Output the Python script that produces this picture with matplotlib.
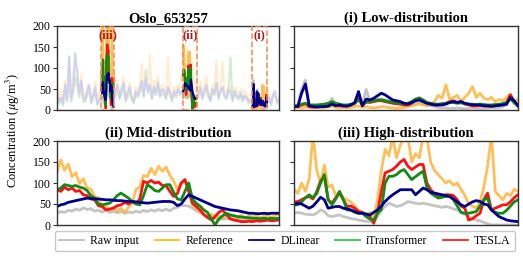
import numpy as np
import matplotlib
matplotlib.use("Agg")
import matplotlib.pyplot as plt
from matplotlib.lines import Line2D
from matplotlib.patches import Rectangle

plt.rcParams['font.family'] = ['Liberation Serif', 'DejaVu Serif']
plt.rcParams['mathtext.fontset'] = 'stix'

# ---- overview (faded background of the full series) ----
bg_ref = [80, 30, 45, 20, 70, 35, 60, 25, 90, 60,
          55, 30, 85, 40, 30, 60, 50, 25, 45, 70,
          20, 40, 60, 80, 120, 150, 200, 180, 100, 60,
          70, 40, 55, 80, 30, 45, 65, 35, 25, 55,
          45, 60, 110, 40, 90, 55, 130, 40, 70, 50,
          80, 45, 60, 55, 35, 125, 50, 30, 55, 45,
          60, 50, 100, 140, 150, 110, 130, 120, 60, 40,
          45, 70, 40, 55, 80, 45, 35, 60, 50, 120,
          40, 55, 115, 45, 40, 60, 50, 30, 55, 45,
          40, 50, 30, 45, 40, 25, 35, 30, 40, 30,
          25, 35, 40, 55, 60, 35, 20, 40, 35, 25,
          30]
bg_itrans = [30, 15, 25, 10, 45, 20, 70, 20, 40, 80,
             60, 30, 55, 20, 20, 35, 45, 15, 30, 40,
             10, 20, 25, 30, 40, 30, 35, 25, 15, 35,
             45, 25, 40, 50, 20, 30, 45, 25, 15, 35,
             30, 40, 55, 30, 95, 40, 50, 25, 45, 35,
             55, 30, 40, 35, 25, 50, 35, 20, 40, 30,
             45, 35, 40, 35, 45, 30, 40, 35, 25, 30,
             30, 45, 25, 40, 50, 30, 20, 45, 35, 55,
             25, 40, 55, 30, 25, 45, 125, 20, 40, 30,
             25, 35, 20, 30, 25, 15, 20, 15, 10, 10,
             10, 10, 15, 10, 15, 25, 10, 30, 35, 15,
             20]
bg_dlinear = [40, 20, 30, 15, 60, 25, 128, 30, 50, 135,
              90, 40, 70, 30, 25, 45, 60, 20, 35, 55,
              15, 25, 30, 40, 50, 35, 45, 30, 20, 45,
              60, 30, 50, 65, 25, 40, 55, 30, 20, 45,
              35, 50, 70, 35, 75, 45, 60, 30, 55, 40,
              65, 35, 50, 45, 30, 55, 40, 25, 45, 35,
              50, 40, 45, 40, 50, 35, 45, 40, 30, 35,
              35, 55, 30, 45, 60, 35, 25, 50, 40, 65,
              30, 45, 55, 35, 30, 50, 40, 25, 45, 35,
              30, 40, 25, 35, 30, 20, 25, 20, 10, 15,
              10, 10, 15, 10, 20, 30, 15, 35, 45, 20,
              25]
windows = {'(iii)': (22, 28), '(ii)': (62.5, 69), '(i)': (97, 104)}

# ---- (i) Low-distribution ----
low_raw = [10, 12, 50, 71, 12, 10, 9, 10, 10, 11,
           28, 12, 14, 10, 10, 12, 14, 30, 12, 49,
           20, 22, 24, 26, 24, 22, 18, 16, 14, 12,
           10, 12, 16, 18, 14, 12, 10, 8, 6, 5,
           5, 4, 4, 5, 4, 3, 4, 5, 4, 4,
           4, 5, 6, 5, 6, 8, 12, 32, 14, 8]
low_ref = [5, 6, 5, 7, 6, 5, 6, 5, 6, 7,
           8, 6, 5, 6, 5, 6, 8, 10, 6, 8,
           6, 5, 6, 8, 7, 6, 5, 4, 5, 6,
           8, 10, 12, 15, 12, 10, 14, 20, 35, 28,
           60, 25, 30, 35, 20, 30, 40, 56, 30, 40,
           28, 25, 30, 20, 25, 22, 30, 38, 20, 25]
low_dlinear = [8, 8, 40, 62, 10, 8, 7, 8, 8, 9,
               14, 10, 12, 10, 9, 12, 18, 44, 10, 26,
               24, 28, 34, 40, 36, 30, 24, 22, 20, 16,
               14, 18, 22, 24, 20, 16, 14, 12, 12, 12,
               14, 18, 20, 18, 20, 16, 14, 12, 12, 12,
               10, 10, 9, 10, 11, 12, 14, 30, 22, 10]
low_itrans = [10, 10, 14, 16, 12, 12, 12, 13, 14, 16,
              20, 16, 14, 12, 12, 14, 16, 24, 14, 18,
              20, 22, 24, 24, 22, 20, 18, 18, 16, 15,
              16, 20, 26, 28, 24, 18, 16, 14, 14, 15,
              16, 18, 18, 16, 17, 15, 14, 14, 13, 14,
              13, 12, 12, 13, 14, 15, 18, 26, 18, 12]
low_tesla = [8, 8, 12, 15, 8, 7, 8, 9, 10, 12,
             16, 12, 10, 9, 10, 12, 16, 30, 10, 20,
             18, 20, 22, 22, 20, 18, 16, 15, 14, 12,
             12, 16, 24, 29, 22, 16, 14, 12, 12, 14,
             16, 20, 22, 18, 20, 14, 12, 10, 10, 11,
             10, 9, 9, 10, 12, 14, 18, 36, 20, 10]

# ---- (ii) Mid-distribution ----
mid_raw = [28, 32, 30, 35, 33, 38, 35, 41, 37, 39,
           33, 35, 31, 35, 30, 33, 29, 32, 28, 31,
           29, 33, 30, 35, 32, 36, 33, 37, 34, 38,
           34, 40, 42, 47, 46, 45, 40, 34, 30, 25,
           20, 16, 15, 14, 14, 15, 14, 13, 14, 13,
           12, 13, 12, 13, 12, 13, 12, 12, 13, 12]
mid_ref = [125, 155, 130, 145, 115, 125, 98, 110, 88, 85,
           68, 65, 42, 45, 35, 42, 32, 40, 30, 42,
           52, 85, 90, 118, 115, 135, 120, 140, 128, 138,
           118, 105, 84, 98, 108, 85, 48, 40, 32, 25,
           18, 26, 18, 22, 16, 24, 18, 22, 17, 24,
           16, 22, 19, 24, 17, 21, 24, 18, 22, 25]
mid_dlinear = [44, 48, 50, 54, 56, 58, 60, 62, 64, 63,
               62, 62, 61, 60, 60, 59, 58, 58, 57, 56,
               56, 55, 54, 53, 52, 53, 54, 55, 56, 56,
               56, 54, 46, 50, 62, 72, 68, 64, 60, 56,
               52, 48, 44, 42, 40, 38, 36, 35, 34, 32,
               30, 28, 28, 27, 27, 28, 27, 28, 28, 28]
mid_itrans = [84, 88, 96, 94, 92, 94, 90, 88, 82, 70,
              64, 50, 48, 50, 52, 60, 70, 76, 70, 64,
              56, 50, 48, 70, 96, 90, 82, 80, 88, 96,
              96, 78, 62, 60, 80, 100, 62, 52, 45, 36,
              30, 15, 0, 14, 22, 28, 24, 22, 20, 19,
              18, 17, 16, 16, 15, 16, 15, 16, 15, 16]
mid_tesla = [84, 80, 90, 84, 88, 80, 82, 72, 70, 62,
             60, 46, 44, 36, 38, 40, 46, 48, 54, 50,
             56, 50, 62, 104, 100, 106, 100, 102, 94, 94,
             80, 68, 75, 100, 108, 80, 52, 44, 36, 25,
             18, 12, 20, 30, 36, 25, 15, 12, 10, 8,
             8, 9, 8, 10, 9, 10, 12, 10, 11, 12]

# ---- (iii) High-distribution ----
high_raw = [28, 30, 28, 26, 25, 24, 28, 36, 32, 22,
            20, 22, 24, 20, 18, 15, 14, 12, 10, 9,
            8, 10, 20, 36, 44, 52, 48, 44, 46, 50,
            56, 54, 52, 50, 52, 50, 48, 46, 44, 42,
            44, 42, 38, 36, 30, 25, 20, 15, 12, 10,
            6, 3, 0, 0, 0, 0, 0, 0, 0, 0]
high_ref = [85, 75, 100, 80, 110, 215, 130, 100, 143, 90,
            95, 70, 80, 64, 60, 55, 45, 35, 30, 25,
            30, 20, 60, 130, 180, 165, 210, 160, 190, 210,
            210, 150, 170, 160, 210, 210, 150, 130, 120, 110,
            100, 105, 95, 100, 85, 70, 50, 45, 40, 55,
            90, 140, 215, 80, 70, 60, 75, 70, 85, 80]
high_dlinear = [48, 52, 50, 45, 40, 45, 55, 66, 60, 40,
                42, 44, 44, 40, 38, 36, 32, 28, 28, 26,
                24, 30, 36, 45, 56, 65, 72, 78, 84, 84,
                84, 84, 72, 80, 88, 84, 78, 76, 74, 72,
                70, 68, 62, 55, 48, 44, 50, 55, 58, 56,
                50, 48, 36, 28, 20, 16, 12, 10, 9, 8]
high_itrans = [48, 48, 55, 65, 72, 65, 75, 100, 120, 60,
               48, 62, 80, 60, 36, 35, 30, 28, 28, 20,
               14, 12, 28, 36, 100, 116, 116, 120, 128, 132,
               120, 108, 115, 122, 128, 90, 76, 70, 64, 66,
               68, 68, 60, 45, 30, 28, 28, 30, 32, 45,
               60, 64, 36, 30, 28, 28, 35, 45, 55, 60]
high_tesla = [55, 56, 60, 65, 68, 62, 80, 105, 116, 60,
              52, 65, 76, 60, 44, 45, 40, 32, 30, 25,
              20, 4, 30, 80, 124, 128, 132, 140, 150, 156,
              140, 132, 138, 144, 144, 100, 84, 75, 68, 70,
              72, 72, 70, 60, 45, 40, 12, 15, 22, 28,
              60, 76, 36, 40, 44, 48, 48, 55, 65, 72]

labels = ['Raw input', 'Reference', 'DLinear', 'iTransformer', 'TESLA']
c_raw, c_ref, c_dl, c_it, c_te = '#c4c4c4', '#ffb02e', '#00008b', '#138a13', '#ff1010'

W, H = 523, 256
fig = plt.figure(figsize=(W / 100, H / 100), dpi=100)


def make_ax(x0, x1, ytop, ybot):
    return fig.add_axes([x0 / W, 1 - ybot / H, (x1 - x0) / W, (ybot - ytop) / H])


def plot_panel(ax, x, raw, ref, dl, it, te, lw=2.0):
    ax.plot(x, raw, color=c_raw, lw=lw)
    ax.plot(x, ref, color=c_ref, lw=lw, alpha=0.8)
    ax.plot(x, te, color=c_te, lw=lw)
    ax.plot(x, it, color=c_it, lw=lw)
    ax.plot(x, dl, color=c_dl, lw=lw)


def style(ax, title, show_labels):
    ax.set_ylim(0, 200)
    ax.set_yticks([0, 50, 100, 150, 200])
    ax.set_xticks([])
    if not show_labels:
        ax.set_yticklabels([])
    ax.tick_params(axis='y', labelsize=8.5, length=3, width=0.8, pad=1.5, colors='#333333',
                   labelcolor='black')
    for s in ax.spines.values():
        s.set_color('#333333')
        s.set_linewidth(1.0)
    ax.set_title(title, fontsize=10.5, fontweight='bold', pad=3)


# overview
ax0 = make_ax(57, 279, 26, 110)
xo = np.arange(len(bg_ref))
ax0.plot(xo, bg_ref, color='#ffeccc', lw=1.4)
ax0.plot(xo, bg_itrans, color='#d4ead0', lw=1.4)
ax0.plot(xo, bg_dlinear, color='#cfcfee', lw=1.4)
panel_sets = {
    '(i)': (low_raw, low_ref, low_dlinear, low_itrans, low_tesla),
    '(ii)': (mid_raw, mid_ref, mid_dlinear, mid_itrans, mid_tesla),
    '(iii)': (high_raw, high_ref, high_dlinear, high_itrans, high_tesla),
}
for name, (a, b) in windows.items():
    raw, ref, dl, it, te = panel_sets[name]
    xs = np.linspace(a, b, len(raw))
    plot_panel(ax0, xs, raw, ref, dl, it, te, lw=1.6)
    ax0.add_patch(Rectangle((a - 0.3, 0), b - a + 0.6, 200, fill=False, ls='--',
                            ec='#f4894b', lw=1.1, zorder=5))
    ax0.text((a + b) / 2, 178, name, color='#b01818', fontsize=9, fontweight='bold',
             ha='center', va='center', zorder=6)
ax0.set_xlim(0, len(bg_ref) - 1)
style(ax0, 'Oslo_653257', True)

ax1 = make_ax(294, 518, 26, 110)
x = np.arange(len(low_raw))
plot_panel(ax1, x, low_raw, low_ref, low_dlinear, low_itrans, low_tesla)
ax1.set_xlim(0, len(x) - 1)
style(ax1, '(i) Low-distribution', False)

ax2 = make_ax(57, 279, 141, 225)
plot_panel(ax2, x, mid_raw, mid_ref, mid_dlinear, mid_itrans, mid_tesla)
ax2.set_xlim(0, len(x) - 1)
style(ax2, '(ii) Mid-distribution', True)

ax3 = make_ax(294, 518, 141, 225)
plot_panel(ax3, x, high_raw, high_ref, high_dlinear, high_itrans, high_tesla)
ax3.set_xlim(0, len(x) - 1)
style(ax3, '(iii) High-distribution', False)

fig.text(0.024, 0.49, r'Concentration ($\mu$g/m$^3$)', rotation=90, ha='center', va='center',
         fontsize=9)

handles = [Line2D([], [], color=c, lw=1.3) for c in ['#bdbdbd', '#ffc000', '#00008b', '#2ecc40', '#ff2020']]
fig.legend(handles, labels, loc='center', bbox_to_anchor=(285 / W, 1 - 241 / H), ncol=5,
           fontsize=8.5, frameon=True, fancybox=True, edgecolor='#bbbbbb', handlelength=2.1,
           handletextpad=0.55, columnspacing=1.3, borderpad=0.35)

fig.savefig('out.png', dpi=100)
